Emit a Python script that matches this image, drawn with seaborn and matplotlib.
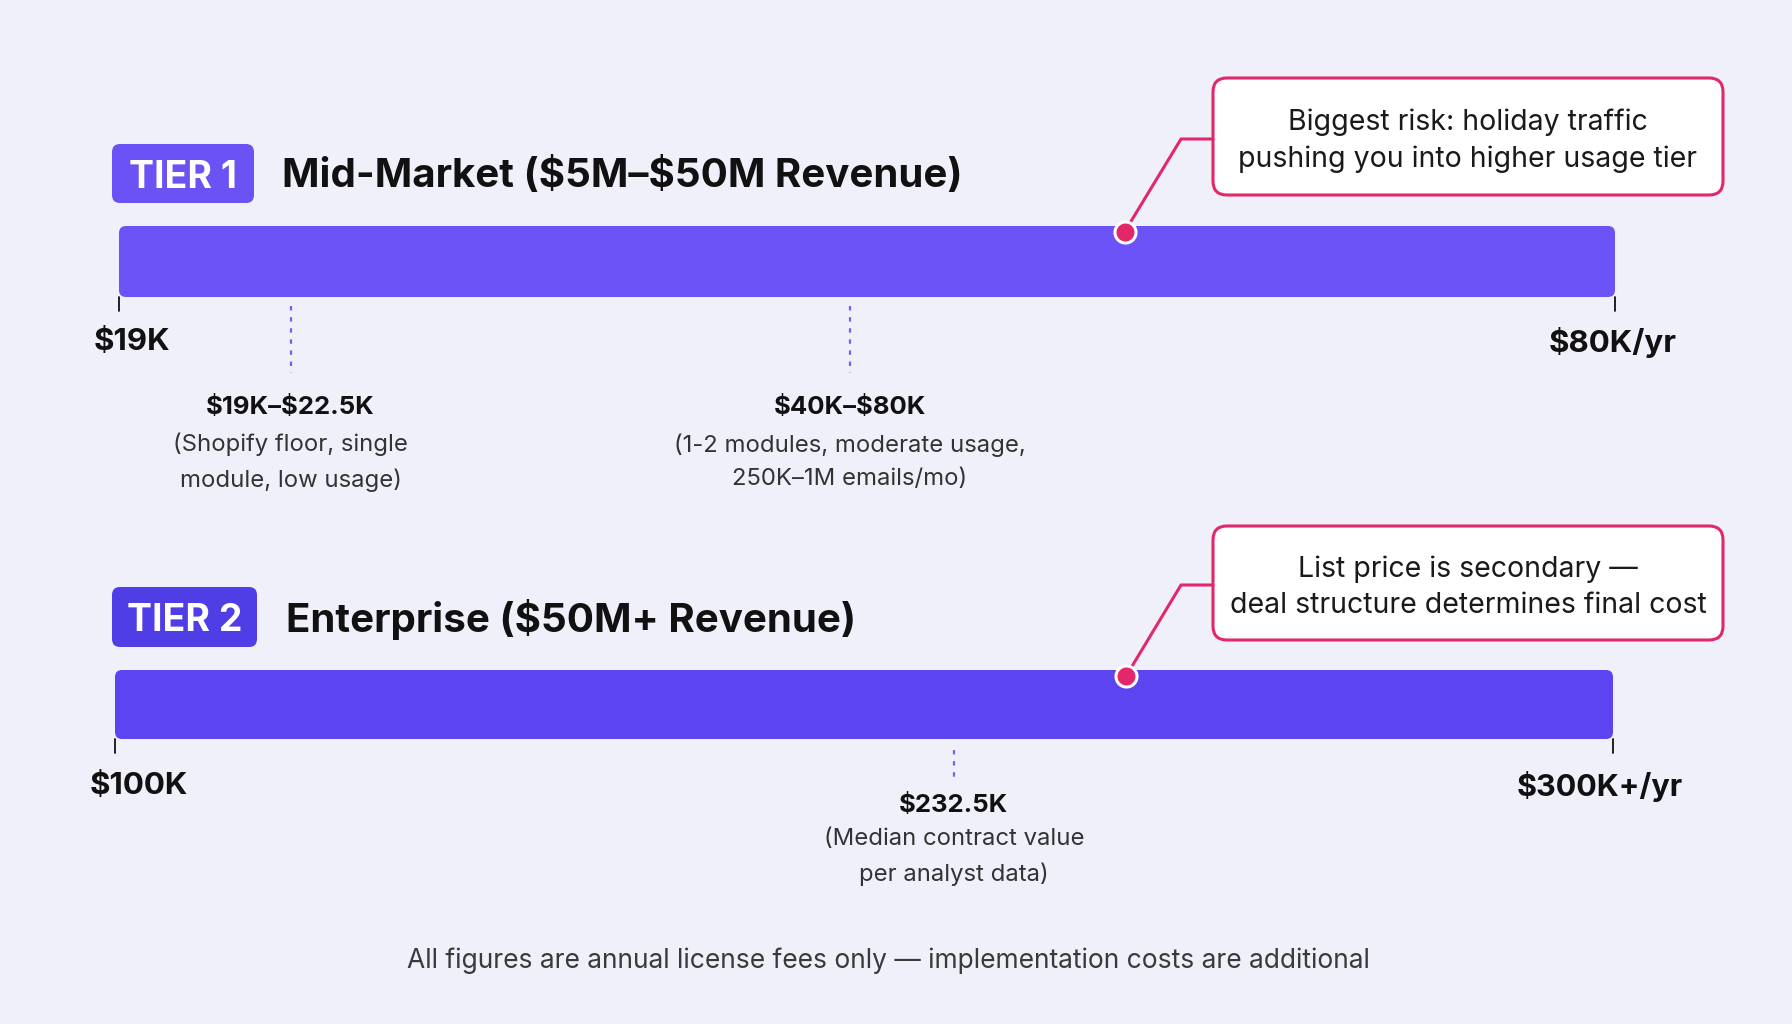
import matplotlib
matplotlib.use("Agg")
import matplotlib.pyplot as plt
from matplotlib.patches import FancyBboxPatch
import seaborn as sns
import numpy as np

# ---------------- data ----------------
tier_badges = ["TIER 1", "TIER 2"]
tier_titles = ["Mid-Market ($5M–$50M Revenue)", "Enterprise ($50M+ Revenue)"]
range_low = [19, 100]          # $K
range_high = [80, 300]         # $K
low_labels = ["$19K", "$100K"]
high_labels = ["$80K/yr", "$300K+/yr"]
marker_values = [[26, 48.8], [212]]        # positions of dotted markers ($K)
marker_titles = [["$19K–$22.5K", "$40K–$80K"], ["$232.5K"]]
marker_notes = [["(Shopify floor, single\nmodule, low usage)",
                 "(1-2 modules, moderate usage,\n250K–1M emails/mo)"],
                ["(Median contract value\nper analyst data)"]]
risk_values = [60, 235]        # $K, callout dots
callout_texts = ["Biggest risk: holiday traffic\npushing you into higher usage tier",
                 "List price is secondary —\ndeal structure determines final cost"]
footer = "All figures are annual license fees only — implementation costs are additional"

# ---------------- style ----------------
W, H = 1792, 1024
sns.set_theme(style="white")
plt.rcParams["font.family"] = ["Inter", "DejaVu Sans"]
plt.rcParams["text.parse_math"] = False
BG = "#EFF0FA"
bar_colors = ["#6C53F8", "#5A45F0"]
badge_colors = ["#6A52F5", "#4F3EE6"]
CRIMSON = "#E2276A"
DOTTED = "#7A62E8"

fig = plt.figure(figsize=(W / 100, H / 100), dpi=100, facecolor=BG)

# overlay axes in pixel coordinates for layout elements
ov = fig.add_axes([0, 0, 1, 1])
ov.set_xlim(0, W)
ov.set_ylim(H, 0)
ov.axis("off")

# layout (pixels)
bar_boxes = [(119, 226, 1615, 297), (115, 670, 1613, 739)]
badge_boxes = [(112, 144, 254, 203), (112, 587, 257, 647)]
title_x = [282, 286]
callout_boxes = [(1213, 78, 1723, 195), (1213, 526, 1723, 640)]
elbows = [(1181, 139), (1181, 585)]
end_label_off = [45, 47]
marker_line = [(9, 76), (11, 38)]
marker_title_off = [[110, 110], [66]]
marker_note_off = [[165, 165], [118]]

for i in range(2):
    # badge
    bx0, by0, bx1, by1 = badge_boxes[i]
    ov.add_patch(FancyBboxPatch((bx0, by0), bx1 - bx0, by1 - by0,
                                boxstyle="round,pad=0,rounding_size=8",
                                fc=badge_colors[i], ec="none"))
    ov.text((bx0 + bx1) / 2, (by0 + by1) / 2 + 4, tier_badges[i], color="white",
            fontsize=27, fontweight="bold", ha="center", va="center")
    ov.text(title_x[i], (by0 + by1) / 2 + 2, tier_titles[i], color="#111111",
            fontsize=29, fontweight="bold", ha="left", va="center")

    # tier axes (data in $K)
    x0, y0, x1, y1 = bar_boxes[i]
    bw, bh = x1 - x0, y1 - y0
    ax = fig.add_axes([x0 / W, 1 - y1 / H, bw / W, bh / H])
    ax.set_xlim(range_low[i], range_high[i])
    ax.set_ylim(0, 1)
    ax.axis("off")
    ux = (range_high[i] - range_low[i]) / bw   # x units per pixel
    uy = 1 / bh
    r_px = 7
    ax.add_patch(FancyBboxPatch((range_low[i], 0), range_high[i] - range_low[i], 1,
                                boxstyle=f"round,pad=0,rounding_size={r_px * ux}",
                                mutation_aspect=uy / ux,
                                fc=bar_colors[i], ec="none", clip_on=False))
    # end ticks
    for v in (range_low[i], range_high[i]):
        ax.plot([v, v], [0, -14 * uy], color="#111111", lw=1.3, clip_on=False)
    # end labels
    ax.annotate(low_labels[i], xy=(range_low[i], 0), xytext=(-25, -end_label_off[i]),
                textcoords="offset pixels", ha="left", va="center",
                fontsize=22.5, fontweight="bold", color="#111111")
    ax.annotate(high_labels[i], xy=(range_high[i], 0), xytext=(62 if i == 0 else 70, -end_label_off[i]),
                textcoords="offset pixels", ha="right", va="center",
                fontsize=22.5 if i == 0 else 22, fontweight="bold", color="#111111")
    # dotted markers
    for j, mv in enumerate(marker_values[i]):
        a, b = marker_line[i]
        ax.plot([mv, mv], [-a * uy, -b * uy], color=DOTTED, lw=1.6,
                ls=(0, (2, 3)), clip_on=False)
        ax.annotate(marker_titles[i][j], xy=(mv, 0), xytext=(0, -marker_title_off[i][j]),
                    textcoords="offset pixels", ha="center", va="center",
                    fontsize=18.5, fontweight="bold", color="#111111")
        ax.annotate(marker_notes[i][j], xy=(mv, 0), xytext=(0, -marker_note_off[i][j]),
                    textcoords="offset pixels", ha="center", va="center",
                    fontsize=17.2, color="#333333", linespacing=1.66)
    # callout dot (seaborn)
    dot_y = 1 - 6 * uy
    sns.scatterplot(x=[risk_values[i]], y=[dot_y], ax=ax, s=230, color=CRIMSON,
                    edgecolor="white", linewidth=2.2, zorder=5, clip_on=False, legend=False)
    ax.set_xlim(range_low[i], range_high[i])
    ax.set_ylim(0, 1)
    ax.axis("off")

    # connector + callout box in overlay pixel coords
    fig.canvas.draw()
    disp = ax.transData.transform((risk_values[i], dot_y))
    px, py = ov.transData.inverted().transform(disp)
    ex, ey = elbows[i]
    cx0, cy0, cx1, cy1 = callout_boxes[i]
    ov.plot([px, ex, cx0], [py, ey, ey], color=CRIMSON, lw=2.2, solid_capstyle="round")
    ov.add_patch(FancyBboxPatch((cx0, cy0), cx1 - cx0, cy1 - cy0,
                                boxstyle="round,pad=0,rounding_size=14",
                                fc="white", ec=CRIMSON, lw=2.2))
    ov.text((cx0 + cx1) / 2, (cy0 + cy1) / 2 + 4, callout_texts[i], ha="center",
            va="center", fontsize=20.5, color="#1a1a1a", linespacing=1.45)

ov.text(W / 2 - 8, 961, footer, ha="center", va="center", fontsize=19, color="#3a3a3a")

fig.savefig("out.png", dpi=100, facecolor=BG)
